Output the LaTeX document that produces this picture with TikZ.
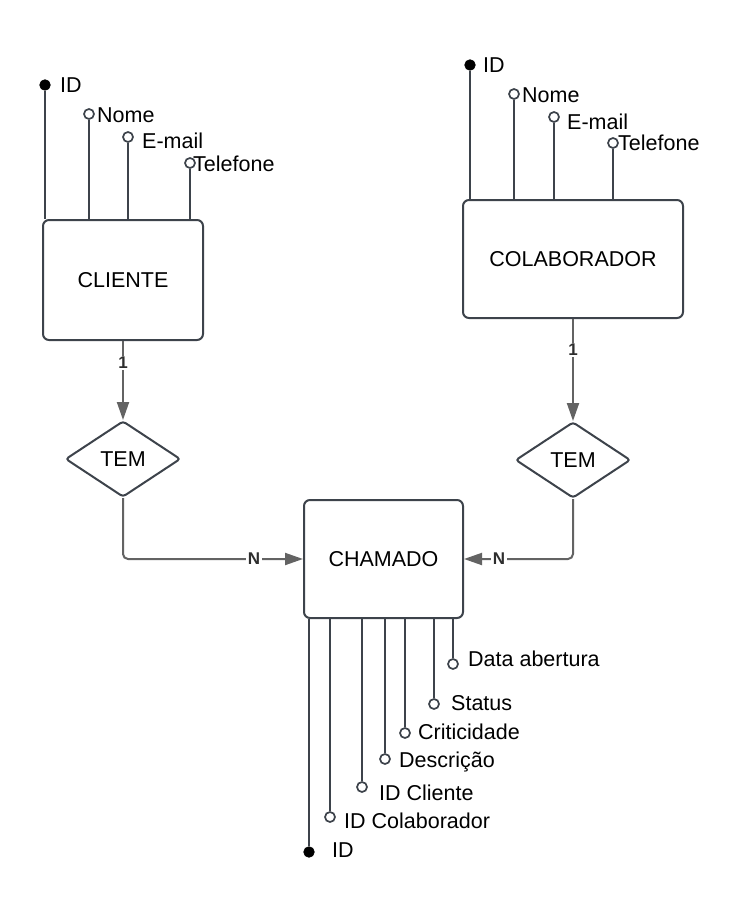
\documentclass[tikz,border=0pt]{standalone}
\usepackage{fontspec}
\setmainfont{Liberation Sans}
\usetikzlibrary{shapes.geometric,arrows.meta}
\definecolor{boxc}{HTML}{3D434B}
\definecolor{connc}{HTML}{636363}
\definecolor{labc}{HTML}{2E2E2E}
\begin{document}
\begin{tikzpicture}[x=1pt,y=-1pt,
  entity/.style={draw=boxc, line width=2pt, rounded corners=6pt, fill=white, inner sep=0pt, font=\fontsize{21.5}{25}\selectfont},
  rel/.style={draw=boxc, line width=2pt, diamond, rounded corners=3pt, minimum width=115pt, minimum height=76pt, inner sep=0pt, fill=white, font=\fontsize{21.5}{25}\selectfont},
  attrline/.style={draw=boxc, line width=2pt},
  opt/.style={circle, draw=boxc, line width=1.7pt, fill=white, minimum size=10pt, inner sep=0pt},
  keyattr/.style={circle, draw=black, fill=black, line width=0.8pt, minimum size=10.5pt, inner sep=0pt},
  atext/.style={anchor=base west, inner sep=0pt, font=\fontsize{21.5}{25}\selectfont},
  link/.style={draw=connc, line width=2pt, -{Triangle[length=18pt,width=12pt]}},
  card/.style={fill=white, text=labc, inner sep=1.5pt, font=\fontsize{17}{20}\selectfont\bfseries}
]
\useasboundingbox (0,0) rectangle (732,923);

% entities
\node[entity, minimum width=160pt, minimum height=120pt] (cliente) at (123,280) {CLIENTE};
\node[entity, minimum width=220pt, minimum height=118pt] (colab) at (573,259) {COLABORADOR};
\node[entity, minimum width=159pt, minimum height=118pt] (chamado) at (383.5,559) {CHAMADO};

% relationships
\node[rel] (tem1) at (123,459) {TEM};
\node[rel] (tem2) at (573,460) {TEM};

% connectors
\draw[link] (cliente.south) -- (tem1.north);
\draw[link] (colab.south) -- (tem2.north);
\draw[link, rounded corners=5pt] (tem1.south) |- (chamado.west);
\draw[link, rounded corners=5pt] (tem2.south) |- (chamado.east);
\node[card] (c1) at (123,363) {1};
\node[card] (c2) at (573,350) {1};
\node[card] (n1) at (254,559) {N};
\node[card] (n2) at (499,559) {N};

% CLIENTE attributes
\node[keyattr] (clId) at (45,85) {};
\node[opt] (clNome) at (89,114) {};
\node[opt] (clMail) at (128,137) {};
\node[opt] (clTel) at (190,163) {};
\draw[attrline] (clId.south) -- (clId.south |- cliente.north);
\draw[attrline] (clNome.south) -- (clNome.south |- cliente.north);
\draw[attrline] (clMail.south) -- (clMail.south |- cliente.north);
\draw[attrline] (clTel.south) -- (clTel.south |- cliente.north);
\node[atext] (tclId) at (60,93) {ID};
\node[atext] (tclNome) at (97,123) {Nome};
\node[atext] (tclMail) at (142,149) {E-mail};
\node[atext] (tclTel) at (193,171) {Telefone};

% COLABORADOR attributes
\node[keyattr] (coId) at (470,65) {};
\node[opt] (coNome) at (514,94) {};
\node[opt] (coMail) at (554,117) {};
\node[opt] (coTel) at (613,143) {};
\draw[attrline] (coId.south) -- (coId.south |- colab.north);
\draw[attrline] (coNome.south) -- (coNome.south |- colab.north);
\draw[attrline] (coMail.south) -- (coMail.south |- colab.north);
\draw[attrline] (coTel.south) -- (coTel.south |- colab.north);
\node[atext] (tcoId) at (483,73) {ID};
\node[atext] (tcoNome) at (522,103) {Nome};
\node[atext] (tcoMail) at (567,130) {E-mail};
\node[atext] (tcoTel) at (618,150) {Telefone};

% CHAMADO attributes
\node[keyattr] (chId) at (309,852) {};
\node[opt] (chCol) at (330,817) {};
\node[opt] (chCli) at (362,787) {};
\node[opt] (chDesc) at (385,759) {};
\node[opt] (chCrit) at (405,733) {};
\node[opt] (chStat) at (434,704) {};
\node[opt] (chData) at (453,664) {};
\foreach \a in {chId,chCol,chCli,chDesc,chCrit,chStat,chData}
  \draw[attrline] (\a.north |- chamado.south) -- (\a.north);
\node[atext] (tchId) at (332,857) {ID};
\node[atext] (tchCol) at (344,828) {ID Colaborador};
\node[atext] (tchCli) at (379,800) {ID Cliente};
\node[atext] (tchDesc) at (399,767) {Descrição};
\node[atext] (tchCrit) at (418,739) {Criticidade};
\node[atext] (tchStat) at (451,710) {Status};
\node[atext] (tchData) at (468,666) {Data abertura};
\end{tikzpicture}
\end{document}
